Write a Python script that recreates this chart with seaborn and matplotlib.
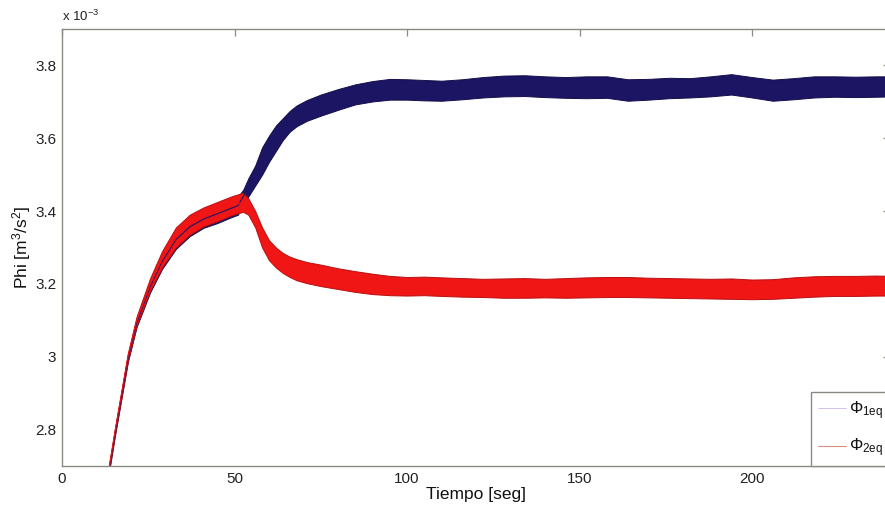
import numpy as np
import pandas as pd
import seaborn as sns
import matplotlib
matplotlib.use("Agg")
import matplotlib.pyplot as plt
from matplotlib.lines import Line2D
from matplotlib.ticker import FuncFormatter

# Time grid [s] and envelopes (upper / lower) of each flow, in units of 1e-3 m^3/s^2
t = [13, 15.4, 19.1, 21.6, 25.5, 29, 33, 37, 41, 45,
     49, 51, 52.5, 54, 56, 58, 60, 62, 64, 66,
     68, 71, 75, 80, 85, 90, 95, 100, 105, 110,
     116, 122, 128, 134, 140, 146, 152, 158, 164, 170,
     176, 182, 188, 194, 200, 206, 212, 218, 224, 230,
     236, 241]

phi1_hi = [2.660, 2.800, 3.003, 3.103, 3.207, 3.282, 3.347, 3.382, 3.402, 3.418,
           3.432, 3.440, 3.458, 3.490, 3.525, 3.575, 3.607, 3.635, 3.655, 3.675,
           3.690, 3.705, 3.720, 3.735, 3.748, 3.757, 3.763, 3.762, 3.760, 3.758,
           3.762, 3.768, 3.772, 3.773, 3.770, 3.768, 3.770, 3.770, 3.762, 3.763,
           3.766, 3.765, 3.770, 3.776, 3.768, 3.761, 3.765, 3.770, 3.770, 3.769,
           3.770, 3.770]
phi1_lo = [2.646, 2.786, 2.986, 3.081, 3.176, 3.241, 3.296, 3.331, 3.354, 3.367,
           3.383, 3.390, 3.420, 3.440, 3.470, 3.500, 3.535, 3.565, 3.595, 3.618,
           3.633, 3.648, 3.662, 3.678, 3.693, 3.701, 3.706, 3.706, 3.704, 3.703,
           3.707, 3.712, 3.715, 3.716, 3.713, 3.711, 3.710, 3.711, 3.703, 3.706,
           3.710, 3.712, 3.715, 3.720, 3.712, 3.703, 3.707, 3.712, 3.714, 3.713,
           3.714, 3.715]

phi2_hi = [2.665, 2.805, 3.010, 3.110, 3.215, 3.290, 3.355, 3.390, 3.410, 3.425,
           3.440, 3.446, 3.450, 3.435, 3.400, 3.355, 3.320, 3.300, 3.285, 3.275,
           3.268, 3.260, 3.253, 3.243, 3.235, 3.228, 3.222, 3.219, 3.220, 3.218,
           3.216, 3.214, 3.215, 3.216, 3.214, 3.216, 3.218, 3.219, 3.219, 3.217,
           3.216, 3.215, 3.214, 3.215, 3.212, 3.213, 3.218, 3.221, 3.222, 3.222,
           3.223, 3.222]
phi2_lo = [2.650, 2.790, 2.990, 3.085, 3.180, 3.245, 3.300, 3.335, 3.358, 3.372,
           3.388, 3.394, 3.398, 3.390, 3.355, 3.300, 3.265, 3.245, 3.230, 3.219,
           3.210, 3.202, 3.194, 3.186, 3.178, 3.172, 3.169, 3.168, 3.169, 3.167,
           3.165, 3.164, 3.162, 3.162, 3.163, 3.162, 3.163, 3.164, 3.164, 3.163,
           3.162, 3.161, 3.160, 3.159, 3.158, 3.159, 3.162, 3.165, 3.167, 3.167,
           3.168, 3.168]

series_names = ["Phi1eq", "Phi2eq"]
legend_labels = [r"$\Phi_{1eq}$", r"$\Phi_{2eq}$"]
x_ticks = [0, 50, 100, 150, 200]
y_ticks = [2.8, 3.0, 3.2, 3.4, 3.6, 3.8]

# Long table: each time instant carries the upper and lower envelope value
rows = []
for name, hi, lo in [(series_names[0], phi1_hi, phi1_lo),
                     (series_names[1], phi2_hi, phi2_lo)]:
    for ti, h, l in zip(t, hi, lo):
        rows.append({"t": ti, "phi": h, "serie": name})
        rows.append({"t": ti, "phi": l, "serie": name})
df = pd.DataFrame(rows)

sns.set_theme(style="white")
plt.rcParams["font.family"] = ["Liberation Sans", "DejaVu Sans"]
plt.rcParams["mathtext.fontset"] = "custom"
plt.rcParams["mathtext.rm"] = "Liberation Sans"
plt.rcParams["mathtext.it"] = "Liberation Sans"

fig = plt.figure(figsize=(8.85, 5.12), dpi=100)
ax = fig.add_axes([62 / 885, 46 / 512, 828 / 885, 437 / 512])

blue = "#1b1563"
red = "#f01616"
palette = {series_names[0]: blue, series_names[1]: red}
edges = {series_names[0]: "#140e4a", series_names[1]: "#b81010"}

for name in series_names:
    sns.lineplot(data=df[df["serie"] == name], x="t", y="phi",
                 estimator="mean", errorbar=("pi", 100),
                 color=palette[name], linewidth=0.8, legend=False,
                 err_kws={"alpha": 1, "edgecolor": edges[name], "linewidth": 0.7},
                 ax=ax)

ax.set_xlim(0, 240)
ax.set_ylim(2.7, 3.9)
ax.set_xticks(x_ticks)
ax.set_yticks(y_ticks)
ax.yaxis.set_major_formatter(FuncFormatter(lambda v, p: f"{v:g}"))

spine_col = "#8a8a82"
for s in ax.spines.values():
    s.set_color(spine_col)
    s.set_linewidth(1.0)
ax.tick_params(direction="in", length=5, width=0.9, color=spine_col,
               top=True, right=True, labelsize=11, labelcolor="#222222", pad=4)

ax.set_xlabel("Tiempo [seg]", fontsize=12.5, labelpad=1, color="#111111")
ax.set_ylabel(r"Phi [m$^3$/s$^2$]", fontsize=12.5, labelpad=2, color="#111111")
ax.text(0.0, 1.012, r"x 10$^{-3}$", transform=ax.transAxes, fontsize=9.5,
        ha="left", va="bottom", color="#222222")

handles = [Line2D([0], [0], color="#c9b8e8", linewidth=0.6),
           Line2D([0], [0], color="#d99080", linewidth=0.8)]
leg = ax.legend(handles, legend_labels, loc="lower right", bbox_to_anchor=(1.0, 0.0),
                borderaxespad=0.0, fancybox=False, framealpha=1, fontsize=12,
                handlelength=1.7, handletextpad=0.2, labelspacing=0.9,
                borderpad=0.4)
leg.get_frame().set_edgecolor(spine_col)
leg.get_frame().set_linewidth(1.0)
for txt in leg.get_texts():
    txt.set_color("#111111")

fig.savefig("out.png", dpi=100)
